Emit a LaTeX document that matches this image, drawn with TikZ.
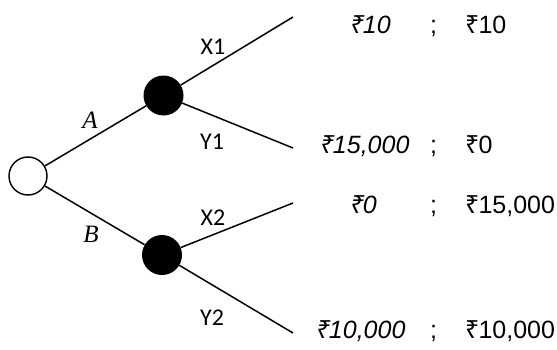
\documentclass[tikz,border=0pt]{standalone}
\usepackage{fontspec}
\setmainfont{Liberation Serif}
\newfontfamily\lblfont{Carlito}
\newfontfamily\amtfont{Liberation Sans}
\newfontfamily\rsfont{Noto Sans}
\newcommand\rupee{{\rsfont ₹}\kern-1pt}
\begin{document}
\begin{tikzpicture}[x=1pt,y=1pt,
  branch/.style={line width=1.5pt},
  chance/.style={circle,draw,line width=1.4pt,minimum size=38pt,inner sep=0pt},
  decision/.style={circle,fill=black,minimum size=40pt,inner sep=0pt},
  lbl/.style={font=\lblfont\fontsize{24}{28}\selectfont,inner sep=0pt},
  ab/.style={font=\itshape\fontsize{25}{28}\selectfont,inner sep=0pt},
  amt/.style={font=\amtfont\fontsize{25}{28}\selectfont,inner sep=0pt,anchor=base west},
  amti/.style={amt,font=\amtfont\itshape\fontsize{25}{28}\selectfont}]
\useasboundingbox (0,0) rectangle (557,349);
\node[chance] (r) at (28,173) {};
\node[decision] (u) at (163.5,253.5) {};
\node[decision] (l) at (162,94) {};
\coordinate (e1) at (293,332);
\coordinate (e2) at (293,201);
\coordinate (e3) at (293,146);
\coordinate (e4) at (293,16);
\draw[branch] (r) -- (u);
\draw[branch] (r) -- (l);
\draw[branch] (u) -- (e1);
\draw[branch] (u) -- (e2);
\draw[branch] (l) -- (e3);
\draw[branch] (l) -- (e4);
\node[ab] (la) at (90,229) {A};
\node[ab] (lb) at (91,115) {B};
\node[lbl] (lx1) at (213,302) {X1};
\node[lbl] (ly1) at (212,207) {Y1};
\node[lbl] (lx2) at (213,131) {X2};
\node[lbl] (ly2) at (212,31) {Y2};
% amounts
\node[amti] (a1) at (350,316) {\rupee10};
\node[amti] (a2) at (320,196) {\rupee15,000};
\node[amti] (a3) at (350,136) {\rupee0};
\node[amti] (a4) at (316,11) {\rupee10,000};
\node[amt] (s1) at (430,316) {;};
\node[amt] (s2) at (430,196) {;};
\node[amt] (s3) at (430,136) {;};
\node[amt] (s4) at (430,11) {;};
\node[amt] (b1) at (465,316) {\rupee10};
\node[amt] (b2) at (465,196) {\rupee0};
\node[amt] (b3) at (465,136) {\rupee15,000};
\node[amt] (b4) at (465,11) {\rupee10,000};
\end{tikzpicture}
\end{document}
